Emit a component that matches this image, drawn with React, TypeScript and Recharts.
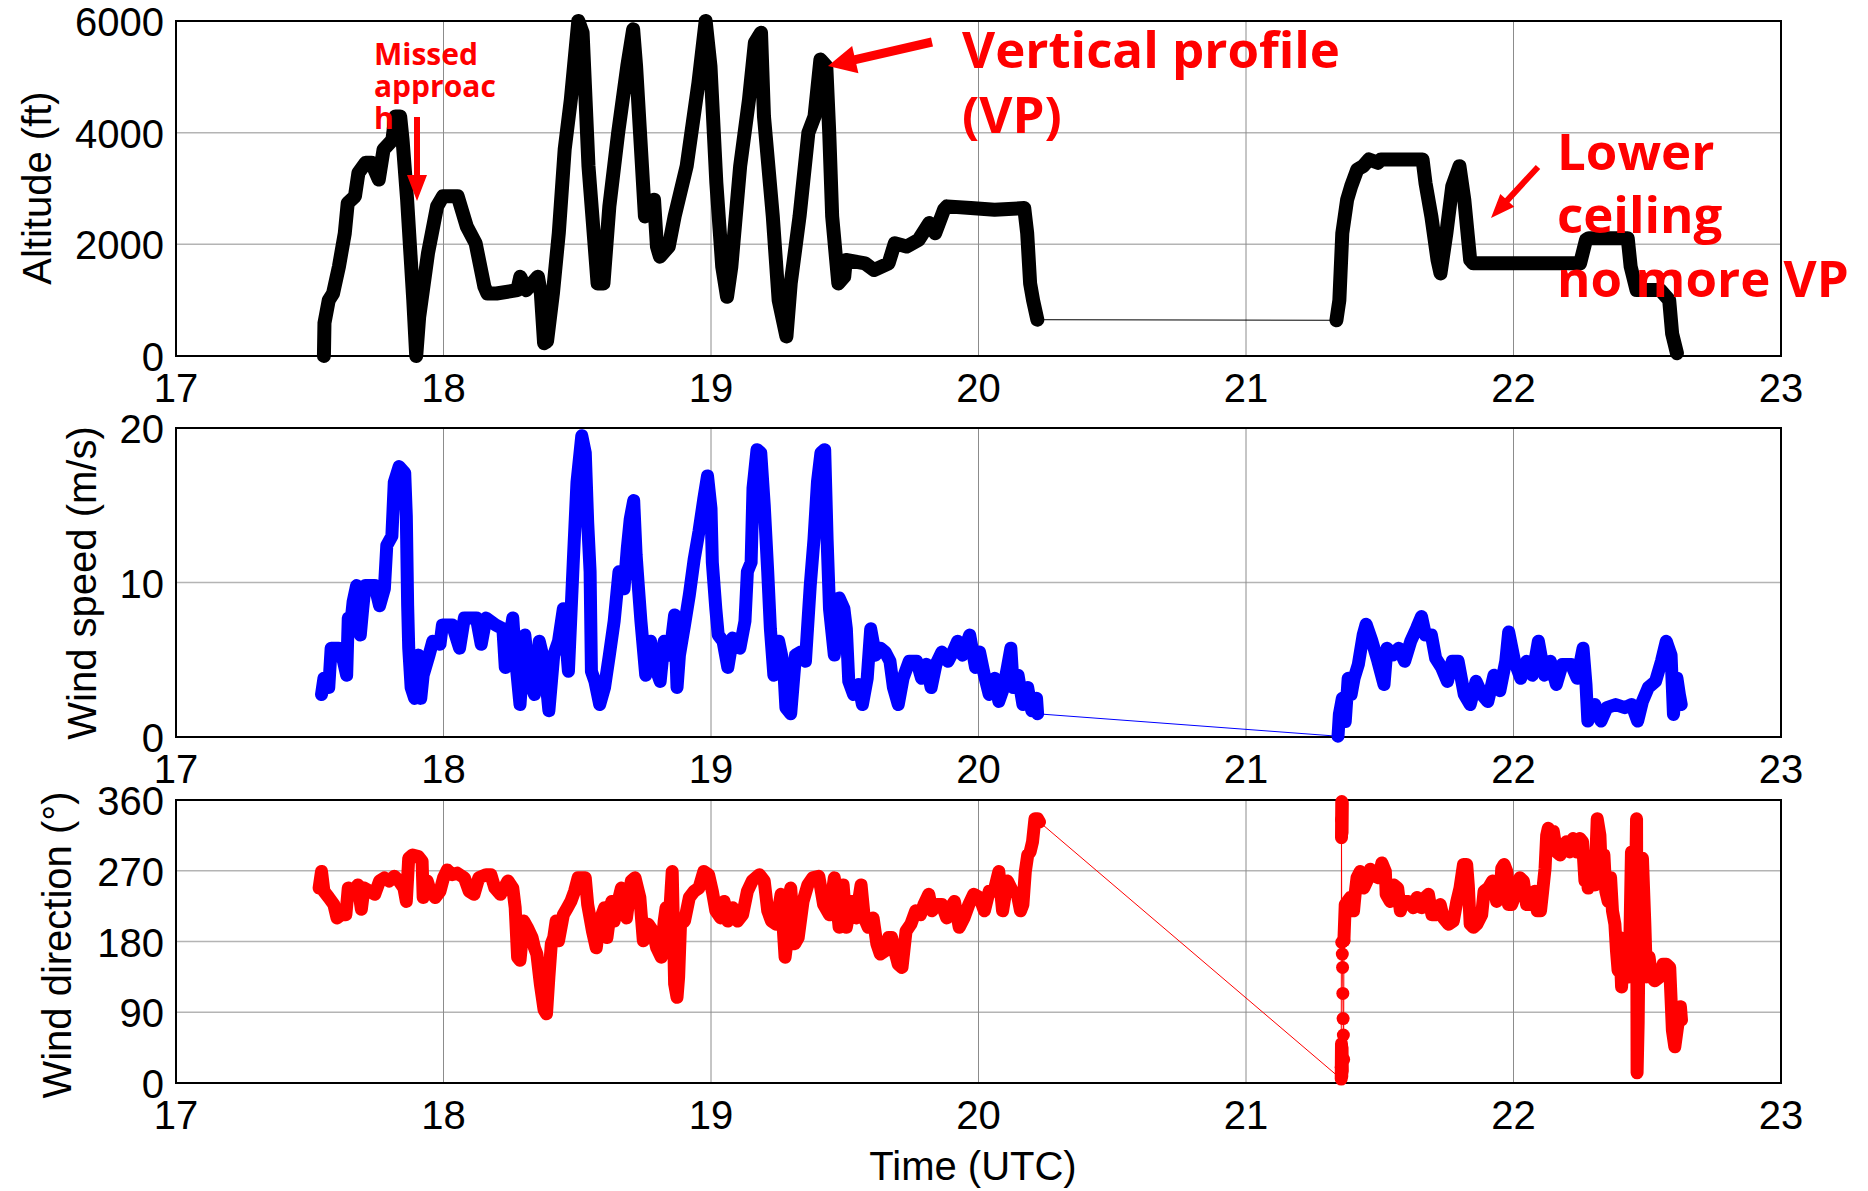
import React from 'react';
import { LineChart, Line, XAxis, YAxis, CartesianGrid, ReferenceArea } from 'recharts';

type Pt = [number, number];

// [time (UTC hours), altitude (ft)]
const altitudeBefore: Pt[] = [
  [17.553, 0], [17.555, 590], [17.571, 1000], [17.587, 1120], [17.609, 1600], [17.631, 2200], [17.642, 2740],
  [17.669, 2860], [17.682, 3280], [17.709, 3460], [17.731, 3460], [17.758, 3160], [17.776, 3700], [17.809, 3870],
  [17.82, 4290], [17.838, 4290], [17.847, 3870], [17.864, 2800], [17.887, 1000], [17.898, 0], [17.909, 700],
  [17.942, 1840], [17.976, 2680], [17.998, 2860], [18.053, 2860], [18.087, 2320], [18.12, 2020], [18.153, 1240],
  [18.164, 1120], [18.198, 1120], [18.276, 1180], [18.287, 1420], [18.309, 1180], [18.353, 1420], [18.364, 1120],
  [18.376, 230], [18.387, 260], [18.409, 1120], [18.431, 2200], [18.453, 3700], [18.476, 4590], [18.504, 6000],
  [18.52, 5790], [18.542, 3400], [18.576, 1300], [18.598, 1300], [18.62, 2680], [18.653, 4000], [18.687, 5190],
  [18.709, 5850], [18.72, 5190], [18.742, 3400], [18.753, 2500], [18.787, 2800], [18.798, 1960], [18.809, 1780],
  [18.842, 1960], [18.864, 2500], [18.909, 3400], [18.953, 4890], [18.98, 6000], [18.998, 5190], [19.02, 3100],
  [19.042, 1600], [19.06, 1060], [19.076, 1600], [19.109, 3400], [19.142, 4590], [19.164, 5610], [19.187, 5790],
  [19.198, 4290], [19.231, 2500], [19.253, 1000], [19.282, 350], [19.298, 1300], [19.331, 2500], [19.364, 4000],
  [19.387, 4290], [19.409, 5310], [19.431, 5190], [19.442, 4000], [19.453, 2500], [19.476, 1300], [19.498, 1420],
  [19.504, 1720], [19.576, 1660], [19.609, 1540], [19.664, 1660], [19.687, 2020], [19.731, 1960], [19.776, 2080],
  [19.816, 2380], [19.838, 2200], [19.871, 2620], [19.882, 2680], [19.971, 2650], [20.06, 2620], [20.171, 2650],
  [20.182, 2200], [20.193, 1300], [20.204, 1000], [20.22, 650],
];
const altitudeAfter: Pt[] = [
  [21.338, 640], [21.349, 1000], [21.36, 2200], [21.378, 2800], [21.393, 3040], [21.416, 3340], [21.438, 3400],
  [21.46, 3520], [21.493, 3460], [21.504, 3520], [21.66, 3520], [21.671, 3100], [21.693, 2500], [21.716, 1720],
  [21.727, 1480], [21.749, 2200], [21.771, 3040], [21.798, 3400], [21.816, 2800], [21.838, 1720], [21.849, 1660],
  [22.06, 1660], [22.249, 1660], [22.271, 2080], [22.282, 2110], [22.427, 2110], [22.438, 1600], [22.46, 1180],
  [22.549, 1180], [22.582, 1000], [22.593, 400], [22.611, 50],
];

// [time (UTC hours), wind speed (m/s)]
const speedBefore: Pt[] = [
  [17.544, 2.75], [17.553, 3.8], [17.571, 3.2], [17.58, 5.75], [17.608, 5.75], [17.626, 4.9], [17.638, 4.0],
  [17.644, 7.7], [17.653, 7.25], [17.662, 8.75], [17.675, 9.8], [17.689, 6.6], [17.698, 8.3], [17.707, 9.8],
  [17.743, 9.8], [17.761, 8.5], [17.779, 9.6], [17.788, 12.4], [17.807, 13.0], [17.816, 16.5], [17.834, 17.5],
  [17.855, 17.1], [17.861, 14.3], [17.866, 8.5], [17.87, 5.75], [17.879, 3.2], [17.892, 2.5], [17.906, 5.3],
  [17.915, 2.5], [17.924, 4.0], [17.946, 5.3], [17.96, 6.2], [17.987, 6.0], [17.996, 7.25], [18.033, 7.25],
  [18.06, 5.75], [18.078, 7.7], [18.123, 7.7], [18.141, 6.0], [18.159, 7.7], [18.195, 7.25], [18.222, 7.0],
  [18.231, 4.5], [18.259, 7.7], [18.268, 5.3], [18.286, 2.1], [18.304, 6.6], [18.322, 3.6], [18.34, 2.75],
  [18.358, 6.2], [18.376, 4.9], [18.394, 1.7], [18.412, 5.3], [18.43, 6.2], [18.448, 8.3], [18.467, 4.25],
  [18.485, 11.3], [18.499, 16.5], [18.517, 19.5], [18.53, 18.4], [18.539, 13.9], [18.548, 10.7], [18.553, 4.25],
  [18.566, 3.6], [18.584, 2.1], [18.602, 3.2], [18.62, 5.3], [18.638, 7.5], [18.656, 10.7], [18.675, 9.6],
  [18.687, 12.2], [18.698, 14.1], [18.711, 15.3], [18.72, 11.8], [18.729, 9.6], [18.738, 7.5], [18.756, 4.0],
  [18.774, 6.2], [18.792, 4.5], [18.81, 3.6], [18.825, 6.2], [18.846, 5.3], [18.864, 7.9], [18.873, 3.2],
  [18.882, 5.3], [18.901, 7.25], [18.919, 9.2], [18.937, 11.5], [18.955, 13.3], [18.973, 15.4], [18.987, 16.9],
  [19.0, 14.8], [19.005, 11.3], [19.018, 8.3], [19.027, 6.6], [19.045, 6.2], [19.063, 4.5], [19.081, 6.4],
  [19.108, 5.75], [19.127, 7.5], [19.136, 10.7], [19.15, 11.3], [19.157, 16.1], [19.172, 18.6], [19.186, 18.4],
  [19.199, 15.0], [19.212, 10.7], [19.222, 7.0], [19.235, 4.0], [19.253, 6.2], [19.271, 4.7], [19.28, 1.9],
  [19.298, 1.5], [19.316, 5.3], [19.335, 5.5], [19.353, 4.9], [19.371, 9.8], [19.385, 12.8], [19.398, 16.5],
  [19.411, 18.4], [19.425, 18.6], [19.434, 12.8], [19.443, 8.3], [19.461, 5.3], [19.479, 9.0], [19.497, 8.3],
  [19.506, 7.0], [19.515, 3.6], [19.533, 2.75], [19.552, 3.4], [19.566, 2.1], [19.584, 3.8], [19.597, 7.0],
  [19.615, 5.3], [19.633, 5.75], [19.651, 5.5], [19.669, 4.9], [19.682, 3.2], [19.7, 2.1], [19.718, 3.8],
  [19.741, 4.9], [19.769, 4.9], [19.787, 3.8], [19.805, 4.7], [19.823, 3.2], [19.841, 4.7], [19.863, 5.5],
  [19.886, 4.9], [19.904, 5.5], [19.922, 6.2], [19.94, 5.3], [19.967, 6.6], [19.989, 4.5], [20.004, 5.5],
  [20.022, 4.0], [20.04, 2.75], [20.061, 3.8], [20.076, 2.3], [20.094, 3.2], [20.108, 4.5], [20.121, 5.75],
  [20.13, 3.2], [20.148, 4.0], [20.166, 2.1], [20.184, 3.2], [20.199, 1.7], [20.217, 2.5], [20.221, 1.5],
];
const speedAfter: Pt[] = [
  [21.344, 0.05], [21.349, 1.46], [21.36, 2.5], [21.371, 1.0], [21.382, 3.8], [21.393, 2.75], [21.404, 3.8],
  [21.42, 4.7], [21.438, 6.6], [21.449, 7.3], [21.471, 6.2], [21.493, 4.9], [21.516, 3.4], [21.527, 5.75],
  [21.549, 5.3], [21.571, 5.75], [21.593, 4.9], [21.616, 6.2], [21.638, 7.05], [21.656, 7.8], [21.671, 6.6],
  [21.693, 6.6], [21.709, 5.1], [21.731, 4.5], [21.753, 3.6], [21.771, 4.9], [21.793, 4.9], [21.816, 2.75],
  [21.838, 2.1], [21.86, 3.6], [21.882, 2.75], [21.904, 2.3], [21.927, 4.0], [21.949, 3.0], [21.971, 4.9],
  [21.982, 6.8], [22.004, 4.9], [22.027, 3.8], [22.049, 4.9], [22.071, 4.0], [22.093, 6.2], [22.116, 4.0],
  [22.138, 4.9], [22.16, 3.4], [22.182, 4.7], [22.216, 4.7], [22.238, 3.8], [22.26, 5.75], [22.271, 3.4],
  [22.278, 1.03], [22.304, 2.1], [22.327, 1.03], [22.349, 1.9], [22.382, 2.1], [22.416, 1.9], [22.442, 2.1],
  [22.464, 1.03], [22.482, 2.3], [22.504, 3.2], [22.531, 3.6], [22.553, 4.9], [22.571, 6.2], [22.589, 5.3],
  [22.598, 1.46], [22.611, 3.8], [22.62, 2.75], [22.627, 2.1],
];

// [time (UTC hours), wind direction (deg)]
const directionBefore: Pt[] = [
  [17.535, 248], [17.544, 269], [17.553, 244], [17.571, 236], [17.59, 227], [17.602, 210], [17.617, 214],
  [17.635, 214], [17.644, 248], [17.662, 244], [17.68, 252], [17.693, 221], [17.703, 248], [17.725, 244],
  [17.743, 240], [17.761, 257], [17.779, 261], [17.797, 257], [17.816, 263], [17.834, 257], [17.852, 248],
  [17.861, 231], [17.87, 286], [17.884, 290], [17.906, 288], [17.92, 282], [17.924, 236], [17.939, 257],
  [17.951, 244], [17.969, 236], [17.987, 244], [18.0, 261], [18.014, 271], [18.033, 265], [18.051, 267],
  [18.078, 261], [18.096, 244], [18.114, 240], [18.132, 261], [18.159, 265], [18.177, 265], [18.192, 248],
  [18.213, 240], [18.241, 257], [18.259, 248], [18.268, 223], [18.277, 160], [18.286, 156], [18.3, 206],
  [18.313, 198], [18.331, 185], [18.34, 172], [18.349, 164], [18.362, 126], [18.376, 93], [18.385, 88],
  [18.394, 135], [18.403, 177], [18.412, 185], [18.421, 206], [18.43, 181], [18.448, 214], [18.463, 223],
  [18.476, 231], [18.49, 244], [18.503, 261], [18.53, 261], [18.539, 227], [18.557, 193], [18.571, 172],
  [18.584, 206], [18.602, 223], [18.611, 185], [18.629, 231], [18.638, 206], [18.647, 223], [18.665, 248],
  [18.684, 210], [18.702, 257], [18.716, 261], [18.734, 236], [18.747, 181], [18.765, 202], [18.783, 193],
  [18.797, 172], [18.814, 160], [18.825, 206], [18.832, 223], [18.843, 202], [18.855, 269], [18.864, 126],
  [18.873, 109], [18.879, 135], [18.886, 202], [18.901, 206], [18.919, 236], [18.937, 244], [18.955, 248],
  [18.973, 269], [18.991, 265], [19.005, 244], [19.018, 219], [19.036, 210], [19.049, 231], [19.063, 206],
  [19.081, 223], [19.099, 206], [19.118, 214], [19.136, 244], [19.154, 257], [19.181, 265], [19.199, 257],
  [19.212, 219], [19.226, 206], [19.244, 202], [19.262, 240], [19.277, 160], [19.289, 193], [19.298, 248],
  [19.313, 177], [19.326, 185], [19.344, 231], [19.362, 252], [19.38, 261], [19.403, 263], [19.421, 227],
  [19.443, 214], [19.461, 261], [19.479, 198], [19.494, 252], [19.506, 198], [19.524, 231], [19.542, 210],
  [19.561, 252], [19.573, 210], [19.588, 198], [19.606, 210], [19.62, 177], [19.633, 164], [19.651, 168],
  [19.664, 185], [19.675, 185], [19.687, 168], [19.7, 151], [19.714, 147], [19.729, 193], [19.747, 202],
  [19.765, 219], [19.783, 214], [19.796, 227], [19.814, 240], [19.826, 219], [19.844, 227], [19.863, 227],
  [19.881, 210], [19.895, 223], [19.91, 231], [19.928, 198], [19.946, 210], [19.964, 227], [19.982, 240],
  [20.004, 236], [20.022, 219], [20.04, 244], [20.058, 244], [20.076, 269], [20.09, 219], [20.108, 257],
  [20.127, 244], [20.145, 240], [20.157, 219], [20.166, 227], [20.175, 269], [20.184, 290], [20.193, 294],
  [20.202, 307], [20.211, 336], [20.221, 336], [20.228, 332],
];
const directionWrapLow: Pt[] = [[21.356, 5], [21.357, 50], [21.358, 8], [21.359, 45], [21.36, 15]];
const directionWrapHigh: Pt[] = [[21.357, 312], [21.358, 358], [21.359, 318], [21.36, 356]];
const directionWrapDots: Pt[] = [
  [21.356, 20], [21.357, 335], [21.358, 179], [21.36, 164], [21.361, 147], [21.362, 114], [21.363, 82],
  [21.364, 61], [21.365, 30], [21.366, 181],
];
const directionAfter: Pt[] = [
  [21.366, 181], [21.371, 227], [21.39, 236], [21.402, 219], [21.409, 244], [21.415, 261], [21.427, 269],
  [21.44, 248], [21.452, 257], [21.465, 272], [21.483, 263], [21.496, 261], [21.508, 280], [21.521, 269],
  [21.524, 240], [21.539, 231], [21.552, 252], [21.567, 248], [21.577, 219], [21.589, 231], [21.608, 231],
  [21.626, 223], [21.639, 236], [21.657, 223], [21.67, 236], [21.682, 240], [21.695, 214], [21.707, 214],
  [21.726, 227], [21.738, 210], [21.757, 202], [21.775, 206], [21.788, 231], [21.8, 248], [21.813, 278],
  [21.825, 278], [21.831, 252], [21.838, 202], [21.85, 198], [21.863, 202], [21.881, 214], [21.89, 244],
  [21.906, 248], [21.922, 257], [21.937, 231], [21.95, 236], [21.956, 273], [21.965, 278], [21.975, 269],
  [21.981, 227], [21.993, 227], [22.012, 244], [22.024, 261], [22.037, 257], [22.049, 227], [22.062, 227],
  [22.068, 240], [22.08, 244], [22.089, 219], [22.101, 219], [22.109, 244], [22.118, 273], [22.124, 315],
  [22.13, 324], [22.139, 311], [22.149, 320], [22.161, 294], [22.174, 290], [22.186, 299], [22.198, 307],
  [22.211, 294], [22.223, 311], [22.236, 294], [22.248, 311], [22.258, 307], [22.267, 257], [22.273, 286],
  [22.279, 248], [22.292, 273], [22.304, 252], [22.313, 336], [22.323, 315], [22.329, 265], [22.338, 290],
  [22.345, 244], [22.354, 231], [22.363, 261], [22.37, 219], [22.379, 202], [22.385, 168], [22.391, 143],
  [22.397, 185], [22.404, 122], [22.41, 168], [22.416, 151], [22.429, 135], [22.435, 181], [22.441, 294],
  [22.447, 236], [22.453, 168], [22.46, 336], [22.462, 13], [22.466, 76], [22.47, 202], [22.475, 252],
  [22.482, 286], [22.491, 202], [22.497, 135], [22.507, 160], [22.516, 135], [22.528, 130], [22.547, 135],
  [22.559, 151], [22.572, 151], [22.584, 147], [22.594, 67], [22.603, 46], [22.615, 76], [22.624, 97],
  [22.628, 80],
];

const hourTicks = [17, 18, 19, 20, 21, 22, 23];
const altitudeTicks = [0, 2000, 4000, 6000];
const speedTicks = [0, 10, 20];
const directionTicks = [0, 90, 180, 270, 360];

const FONT = '"Liberation Sans", Arial, sans-serif';
const ANNOT_FONT = '"Open Sans", "Noto Sans", sans-serif';
const PLOT_LEFT = 176;
const PLOT_RIGHT = 1781;
const W = 1868;

const pts = (arr: Pt[]) => arr.map(([t, v]) => ({ t, v }));

const XTick = (props: any) => (
  <text x={props.x} y={props.y + 46} textAnchor="middle" fontSize={40} fontFamily={FONT} fill="#000">
    {props.payload.value}
  </text>
);
const YTick = (props: any) => (
  <text x={PLOT_LEFT - 12} y={props.y + 15} textAnchor="end" fontSize={40} fontFamily={FONT} fill="#000">
    {props.payload.value}
  </text>
);

interface Series {
  data: Pt[];
  thin?: boolean;
  dots?: boolean;
}

interface PanelProps {
  top: number;
  marginTop: number;
  plotHeight: number;
  yMax: number;
  yTicks: number[];
  color: string;
  width: number;
  series: Series[];
}

function Panel({ top, marginTop, plotHeight, yMax, yTicks, color, width, series }: PanelProps) {
  const xAxisHeight = 60;
  return (
    <div style={{ position: 'absolute', left: 0, top }}>
      <LineChart
        width={W}
        height={marginTop + plotHeight + xAxisHeight}
        margin={{ top: marginTop, right: W - PLOT_RIGHT, bottom: 0, left: 0 }}
      >
        <CartesianGrid vertical={false} stroke="#b4b4b4" strokeWidth={1.5} />
        <CartesianGrid horizontal={false} stroke="#8c8c8c" strokeWidth={1} />
        <XAxis
          dataKey="t"
          type="number"
          domain={[17, 23]}
          ticks={hourTicks}
          tickLine={false}
          axisLine={false}
          tickSize={0}
          tickMargin={0}
          height={xAxisHeight}
          tick={XTick}
        />
        <YAxis
          type="number"
          domain={[0, yMax]}
          ticks={yTicks}
          width={PLOT_LEFT}
          tickLine={false}
          axisLine={false}
          tickSize={0}
          tickMargin={0}
          tick={YTick}
        />
        <ReferenceArea x1={17} x2={23} y1={0} y2={yMax} fill="none" stroke="#000" strokeWidth={2} />
        {series.map((s, i) => (
          <Line
            key={i}
            data={pts(s.data)}
            dataKey="v"
            type="linear"
            stroke={color}
            strokeWidth={s.thin ? 1 : width}
            strokeLinejoin="round"
            strokeLinecap="round"
            dot={s.dots ? { r: 6.5, fill: color, stroke: 'none' } : false}
            activeDot={false}
            isAnimationActive={false}
          />
        ))}
      </LineChart>
    </div>
  );
}

function arrowPoints(x1: number, y1: number, x2: number, y2: number, shaft: number, headLen: number, headW: number) {
  const len = Math.hypot(x2 - x1, y2 - y1);
  const ux = (x2 - x1) / len;
  const uy = (y2 - y1) / len;
  const nx = -uy;
  const ny = ux;
  const bx = x2 - ux * headLen;
  const by = y2 - uy * headLen;
  const p = [
    [x1 + (nx * shaft) / 2, y1 + (ny * shaft) / 2],
    [bx + (nx * shaft) / 2, by + (ny * shaft) / 2],
    [bx + (nx * headW) / 2, by + (ny * headW) / 2],
    [x2, y2],
    [bx - (nx * headW) / 2, by - (ny * headW) / 2],
    [bx - (nx * shaft) / 2, by - (ny * shaft) / 2],
    [x1 - (nx * shaft) / 2, y1 - (ny * shaft) / 2],
  ];
  return p.map((q) => q.join(',')).join(' ');
}

export default function App() {
  const altGap: Pt[] = [altitudeBefore[altitudeBefore.length - 1], altitudeAfter[0]];
  const speedGap: Pt[] = [speedBefore[speedBefore.length - 1], speedAfter[0]];
  const dirGap: Pt[] = [directionBefore[directionBefore.length - 1], directionWrapLow[0]];

  return (
    <div style={{ position: 'absolute', left: 0, top: 0, width: W, height: 1191, background: '#fff' }}>
      <Panel
        top={0}
        marginTop={21}
        plotHeight={335}
        yMax={6000}
        yTicks={altitudeTicks}
        color="#000000"
        width={14}
        series={[{ data: altGap, thin: true }, { data: altitudeBefore }, { data: altitudeAfter }]}
      />
      <Panel
        top={390}
        marginTop={38}
        plotHeight={309}
        yMax={20}
        yTicks={speedTicks}
        color="#0000ff"
        width={13}
        series={[{ data: speedGap, thin: true }, { data: speedBefore }, { data: speedAfter }]}
      />
      <Panel
        top={760}
        marginTop={40}
        plotHeight={283}
        yMax={360}
        yTicks={directionTicks}
        color="#ff0000"
        width={13}
        series={[
          { data: dirGap, thin: true },
          { data: directionWrapDots, thin: true, dots: true },
          { data: directionBefore },
          { data: directionWrapLow },
          { data: directionWrapHigh },
          { data: directionAfter },
        ]}
      />
      <svg
        width={W}
        height={1191}
        style={{ position: 'absolute', left: 0, top: 0, pointerEvents: 'none' }}
      >
        <g fontFamily={FONT} fontSize={40} fill="#000" textAnchor="middle">
          <text x={37} y={188} transform="rotate(-90 37 188)" dominantBaseline="central">Altitude (ft)</text>
          <text x={82} y={583} transform="rotate(-90 82 583)" dominantBaseline="central">Wind speed (m/s)</text>
          <text x={57} y={945} transform="rotate(-90 57 945)" dominantBaseline="central">Wind direction (°)</text>
          <text x={973} y={1180}>Time (UTC)</text>
        </g>
        <g fontFamily={ANNOT_FONT} fontWeight={700} fill="#ff0000">
          <text fontSize={30}>
            <tspan x={374} y={65}>Missed</tspan>
            <tspan x={374} y={97}>approac</tspan>
            <tspan x={374} y={129}>h</tspan>
          </text>
          <text fontSize={51}>
            <tspan x={962} y={68}>Vertical profile</tspan>
            <tspan x={962} y={133}>(VP)</tspan>
          </text>
          <text fontSize={51}>
            <tspan x={1557} y={170}>Lower</tspan>
            <tspan x={1557} y={233}>ceiling</tspan>
            <tspan x={1557} y={297}>no more VP</tspan>
          </text>
        </g>
        <g fill="#ff0000">
          <polygon points={arrowPoints(417, 117, 417, 201, 6, 26, 20)} />
          <polygon points={arrowPoints(932, 42, 828, 66, 9, 28, 28)} />
          <polygon points={arrowPoints(1538, 167, 1491, 218, 6, 24, 19)} />
        </g>
      </svg>
    </div>
  );
}
